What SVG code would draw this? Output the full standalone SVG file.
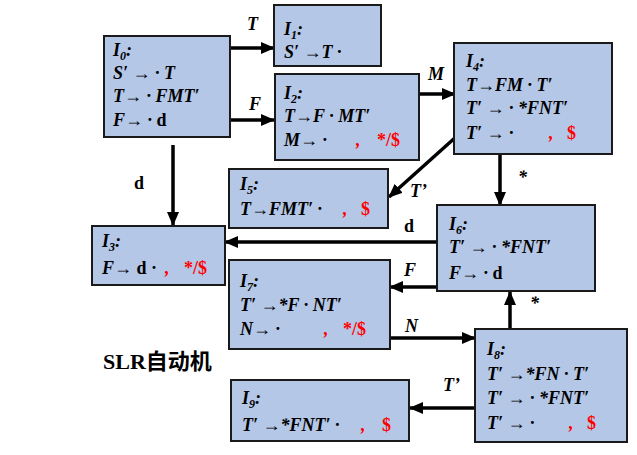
<svg xmlns="http://www.w3.org/2000/svg" width="637" height="455" viewBox="0 0 637 455">
<style>
.box{fill:#b4c7e7;stroke:#1a1a1a;stroke-width:2}
text{font-family:"Times New Roman","Liberation Serif","DejaVu Serif","Noto Serif",Times,serif;font-size:18px;font-weight:bold;font-style:italic;fill:#000}
.up{font-style:normal}
.r{fill:#ff0000;font-style:normal}
.rc{fill:#ff0000}
.sub{font-size:12px}
.lbl{font-size:18px}
.edge{stroke:#000;stroke-width:3.5;fill:none;marker-end:url(#ah)}
text.title{font-family:"Times New Roman","Liberation Serif","Noto Sans CJK SC",serif;font-size:22px;font-style:normal}
</style>
<defs>
<marker id="ah" markerUnits="userSpaceOnUse" markerWidth="14" markerHeight="14" viewBox="0 0 14 14" refX="13" refY="7" orient="auto">
<path d="M0,1 L14,7 L0,13 Z" fill="#000"/>
</marker>
</defs>

<g id="connectors">
<line class="edge" x1="230" y1="48" x2="274" y2="48"/>
<line class="edge" x1="230" y1="120" x2="274" y2="120"/>
<line class="edge" x1="419" y1="94" x2="455" y2="94"/>
<line class="edge" x1="457" y1="136" x2="389" y2="197"/>
<line class="edge" x1="500" y1="155" x2="500" y2="205"/>
<line class="edge" x1="437" y1="242" x2="225" y2="242"/>
<line class="edge" x1="437" y1="287" x2="390" y2="287"/>
<line class="edge" x1="390" y1="338" x2="475" y2="338"/>
<line class="edge" x1="510" y1="329" x2="510" y2="292"/>
<line class="edge" x1="475" y1="408" x2="410" y2="408"/>
<line class="edge" x1="173" y1="145" x2="173" y2="225"/>
<text class="lbl" x="247" y="30">T</text>
<text class="lbl" x="249" y="110">F</text>
<text class="lbl" x="428" y="80">M</text>
<text class="lbl" x="410" y="197">T’</text>
<text class="lbl" x="518" y="183">*</text>
<text class="lbl up" x="404" y="232">d</text>
<text class="lbl" x="404" y="276">F</text>
<text class="lbl" x="405" y="332">N</text>
<text class="lbl" x="530" y="309">*</text>
<text class="lbl" x="443" y="391">T’</text>
<text class="lbl up" x="134" y="189">d</text>
</g>

<g id="I0">
<rect class="box" x="104" y="36" width="126" height="101"/>
<text x="113" y="56">I<tspan class="sub" dy="4">0</tspan><tspan dy="-4">:</tspan></text>
<text x="113" y="79">S′ → · T</text>
<text x="113" y="102">T→ · FMT′</text>
<text x="113" y="126">F→ · <tspan class="up">d</tspan></text>
</g>

<g id="I1">
<rect class="box" x="274" y="5" width="107" height="61"/>
<text x="284" y="35">I<tspan class="sub" dy="4">1</tspan><tspan dy="-4">:</tspan></text>
<text x="284" y="58">S′ →T ·</text>
</g>

<g id="I2">
<rect class="box" x="275" y="74" width="144" height="86"/>
<text x="284" y="99">I<tspan class="sub" dy="4">2</tspan><tspan dy="-4">:</tspan></text>
<text x="284" y="122">T→F · MT′</text>
<text x="284" y="146">M→ ·</text>
<text class="rc" x="356" y="146">,</text>
<text class="r" x="377" y="146">*/$</text>
</g>

<g id="I4">
<rect class="box" x="454" y="43" width="158" height="111"/>
<text x="466" y="67">I<tspan class="sub" dy="4">4</tspan><tspan dy="-4">:</tspan></text>
<text x="466" y="91">T→FM · T′</text>
<text x="466" y="114">T′ → · *FNT′</text>
<text x="466" y="139">T′ → ·</text>
<text class="rc" x="549" y="139">,</text>
<text class="r" x="567" y="139">$</text>
</g>

<g id="I5">
<rect class="box" x="229" y="169" width="159" height="59"/>
<text x="240" y="190">I<tspan class="sub" dy="4">5</tspan><tspan dy="-4">:</tspan></text>
<text x="240" y="215">T→FMT′ ·</text>
<text class="rc" x="343" y="215">,</text>
<text class="r" x="361" y="215">$</text>
</g>

<g id="I3">
<rect class="box" x="92" y="226" width="133" height="59"/>
<text x="102" y="247">I<tspan class="sub" dy="4">3</tspan><tspan dy="-4">:</tspan></text>
<text x="102" y="274">F→ <tspan class="up">d ·</tspan></text>
<text class="rc" x="165" y="274">,</text>
<text class="r" x="184" y="274">*/$</text>
</g>

<g id="I6">
<rect class="box" x="437" y="205" width="158" height="86"/>
<text x="449" y="230">I<tspan class="sub" dy="4">6</tspan><tspan dy="-4">:</tspan></text>
<text x="449" y="253">T′ → · *FNT′</text>
<text x="449" y="279">F→ · <tspan class="up">d</tspan></text>
</g>

<g id="I7">
<rect class="box" x="229" y="260" width="161" height="89"/>
<text x="240" y="287">I<tspan class="sub" dy="4">7</tspan><tspan dy="-4">:</tspan></text>
<text x="240" y="311">T′ →*F · NT′</text>
<text x="240" y="335">N→ ·</text>
<text class="rc" x="324" y="335">,</text>
<text class="r" x="343" y="335">*/$</text>
</g>

<g id="I8">
<rect class="box" x="475" y="329" width="152" height="113"/>
<text x="487" y="355">I<tspan class="sub" dy="4">8</tspan><tspan dy="-4">:</tspan></text>
<text x="487" y="380">T′ →*FN · T′</text>
<text x="487" y="404">T′ → · *FNT′</text>
<text x="487" y="429">T′ → ·</text>
<text class="rc" x="569" y="429">,</text>
<text class="r" x="587" y="429">$</text>
</g>

<g id="I9">
<rect class="box" x="231" y="380" width="178" height="61"/>
<text x="242" y="404">I<tspan class="sub" dy="4">9</tspan><tspan dy="-4">:</tspan></text>
<text x="242" y="431">T′ →*FNT′ ·</text>
<text class="rc" x="361" y="431">,</text>
<text class="r" x="382" y="431">$</text>
</g>

<text class="title" x="103" y="369">SLR自动机</text>
</svg>
